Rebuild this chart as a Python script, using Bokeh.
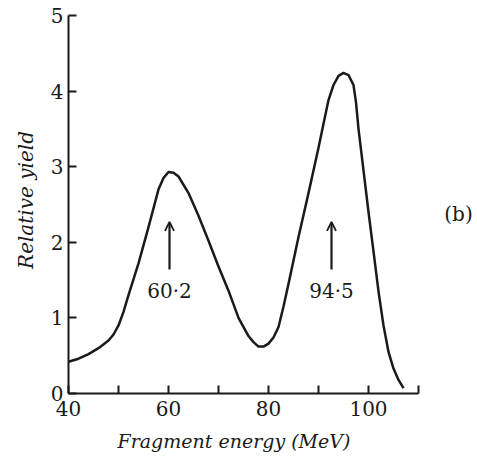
from bokeh.plotting import figure
from bokeh.models import FixedTicker, Arrow, OpenHead, Label, Range1d, Title
from bokeh.embed import file_html
from bokeh.resources import INLINE

# Data
energy = [40, 42, 44, 46, 48, 49, 50, 51, 52, 54, 56, 58, 59, 60, 61, 62, 64, 66, 68, 70,
          72, 74, 76, 77, 78, 79, 80, 81, 82, 83, 84, 86, 88, 90, 92, 93, 94, 95, 96,
          97, 97.5, 98, 99, 100, 101, 102, 103, 104, 105, 106, 107]
yield_ = [0.42, 0.46, 0.52, 0.60, 0.70, 0.78, 0.90, 1.08, 1.30, 1.72, 2.20, 2.70, 2.85, 2.93,
          2.92, 2.87, 2.65, 2.35, 2.02, 1.68, 1.36, 1.00, 0.76, 0.68, 0.62, 0.62,
          0.66, 0.74, 0.88, 1.15, 1.45, 2.07, 2.65, 3.25, 3.88, 4.08, 4.20, 4.24, 4.21,
          4.08, 3.85, 3.50, 2.95, 2.40, 1.88, 1.35, 0.90, 0.55, 0.33, 0.18, 0.07]

x_ticks = [40, 50, 60, 70, 80, 90, 100, 110]
x_tick_labels = {40: "40", 50: "", 60: "60", 70: "", 80: "80", 90: "", 100: "100", 110: ""}
y_ticks = [0, 1, 2, 3, 4, 5]

peak_pos = [60.2, 92.6]
peak_text = ["60·2", "94·5"]
arrow_tail = 1.64
arrow_tip = 2.27
peak_label_y = 1.36

ink = "#1a1a1a"
serif = "DejaVu Serif"

p = figure(width=477, height=461, output_backend="svg", toolbar_location=None,
           x_range=Range1d(40, 121.8), y_range=Range1d(0, 5.118),
           min_border_left=68, min_border_right=0, min_border_top=6, min_border_bottom=66)
p.outline_line_color = None
p.grid.visible = False

p.line(energy, yield_, line_color=ink, line_width=2.5, line_join="round")

for xp, t in zip(peak_pos, peak_text):
    p.add_layout(Arrow(end=OpenHead(size=9, line_width=1.8, line_color=ink),
                       x_start=xp, y_start=arrow_tail, x_end=xp, y_end=arrow_tip,
                       line_width=2.2, line_color=ink))
    p.add_layout(Label(x=xp, y=peak_label_y, text=t, text_align="center",
                       text_baseline="middle", text_font=serif, text_font_size="20px",
                       text_color=ink))

p.add_layout(Label(x=118.0, y=2.37, text="(b)", text_align="center", text_baseline="middle",
                   text_font=serif, text_font_size="20px", text_color=ink))

xa = p.xaxis[0]
xa.ticker = FixedTicker(ticks=x_ticks)
xa.major_label_overrides = x_tick_labels
xa.bounds = (40, 110)

ya = p.yaxis[0]
ya.ticker = FixedTicker(ticks=y_ticks)
ya.bounds = (0, 5)
ya.axis_label = "Relative yield"

for ax in (xa, ya):
    ax.axis_line_width = 2
    ax.axis_line_color = ink
    ax.major_tick_line_color = ink
    ax.major_tick_line_width = 2
    ax.major_tick_in = 8
    ax.major_tick_out = 0
    ax.minor_tick_line_color = None
    ax.major_label_text_font = serif
    ax.major_label_text_font_size = "20px"
    ax.major_label_text_color = ink
    ax.axis_label_text_font = serif
    ax.axis_label_text_font_style = "italic"
    ax.axis_label_text_color = ink

xa.major_label_standoff = 7
ya.major_label_standoff = 5
ya.axis_label_standoff = 10
ya.axis_label_text_font_size = "20px"

p.add_layout(Title(text="Fragment energy (MeV)", align="left", offset=49,
                   text_font=serif, text_font_size="19px", text_font_style="italic",
                   text_color=ink, standoff=19), "below")

open("out.html", "w").write(file_html(p, INLINE))
